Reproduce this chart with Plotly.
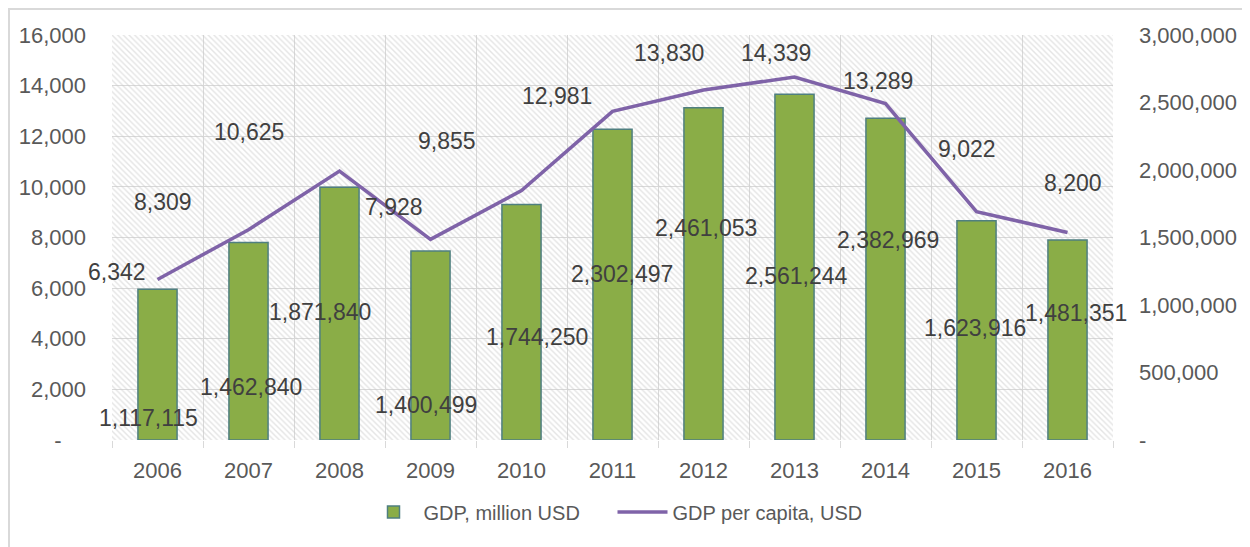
import plotly.graph_objects as go

years = ["2006", "2007", "2008", "2009", "2010", "2011", "2012", "2013", "2014", "2015", "2016"]
gdp_million = [1117115, 1462840, 1871840, 1400499, 1744250, 2302497, 2461053, 2561244, 2382969, 1623916, 1481351]
gdp_per_capita = [6342, 8309, 10625, 7928, 9855, 12981, 13830, 14339, 13289, 9022, 8200]

left_ticks = [0, 2000, 4000, 6000, 8000, 10000, 12000, 14000, 16000]
right_ticks = [0, 500000, 1000000, 1500000, 2000000, 2500000, 3000000]

# label offsets in pixels (dx, dy; dy positive = up), mimicking the original label placement
line_label_dx = [-41, -86, -91, -37, -75, -56, -35, -19, -8, -10, 5]
line_label_dy = [7, 28, 39, 32, 50, 15, 37, 24, 23, 63, 49]
bar_label_dx = [-9, 2, -20, -5, 15, 9, 2, 2, 2, -2, 8]
bar_label_dy = [-129, -144, -125, -154, -132, -145, -120, -182, -122, -107, -73]

FONT = "Liberation Sans"
TXT = "#595959"
LBL = "#404040"
GRID = "#d9d9d9"

# page has an 8px body margin; figure is sized/margined to compensate
W, H = 1242, 539
ML, MT, MR, MB = 104, 27, 137, 107
PW, PH = W - ML - MR, H - MT - MB

fig = go.Figure()

# hatched plot-area background
fig.add_trace(go.Bar(
    x=years, y=[right_ticks[-1]] * len(years), width=1,
    marker=dict(color="rgba(0,0,0,0)", line=dict(width=0),
                pattern=dict(shape="\\", fgcolor="#c9c9c9", bgcolor="rgba(0,0,0,0)",
                             size=4, solidity=0.35)),
    showlegend=False, hoverinfo="skip", yaxis="y", xaxis="x"))

fig.add_trace(go.Bar(
    x=years, y=gdp_million, width=0.43, name="GDP, million USD",
    marker=dict(color="#8aad47", line=dict(color="#4f7f80", width=1.5)),
    yaxis="y", xaxis="x"))

fig.add_trace(go.Scatter(
    x=years, y=gdp_per_capita, mode="lines", name="GDP per capita, USD",
    line=dict(color="#7f63a8", width=3.5), yaxis="y2", xaxis="x"))

for i in range(len(years)):
    fig.add_annotation(x=i, y=gdp_per_capita[i], xref="x", yref="y2",
                       text=f"{gdp_per_capita[i]:,}", showarrow=False,
                       xshift=line_label_dx[i], yshift=line_label_dy[i],
                       font=dict(family=FONT, size=23, color=LBL))
    fig.add_annotation(x=i, y=gdp_million[i], xref="x", yref="y",
                       text=f"{gdp_million[i]:,}", showarrow=False,
                       xshift=bar_label_dx[i], yshift=bar_label_dy[i],
                       font=dict(family=FONT, size=23, color=LBL))

# outer chart border
fig.add_shape(type="rect", xref="paper", yref="paper",
              x0=(1 - ML) / PW, x1=(1238 - ML) / PW,
              y0=-(MB + 20) / PH, y1=(PH + MT - 1) / PH,
              line=dict(color="#d9d9d9", width=2), layer="below")

fig.update_layout(
    width=W, height=H,
    margin=dict(l=ML, r=MR, t=MT, b=MB, autoexpand=False),
    paper_bgcolor="white", plot_bgcolor="white",
    barmode="overlay",
    font=dict(family=FONT, size=22, color=TXT),
    xaxis=dict(type="category", range=[-0.5, 10.5], tickson="boundaries",
               showgrid=True, gridcolor=GRID, gridwidth=1,
               ticks="outside", ticklen=7, tickcolor=GRID,
               showline=False, zeroline=False, ticklabelstandoff=15,
               tickfont=dict(family=FONT, size=22, color=TXT)),
    yaxis=dict(side="right", range=[0, right_ticks[-1]], tickmode="array",
               tickvals=right_ticks,
               ticktext=["-" if v == 0 else f"{v:,}" for v in right_ticks],
               showgrid=False, zeroline=False, showline=False,
               ticklabelstandoff=25,
               tickfont=dict(family=FONT, size=22, color=TXT)),
    yaxis2=dict(side="left", overlaying="y", range=[0, left_ticks[-1]],
                tickmode="array", tickvals=left_ticks,
                ticktext=["-\u00a0\u00a0\u00a0\u00a0" if v == 0 else f"{v:,}" for v in left_ticks],
                showgrid=True, gridcolor=GRID, gridwidth=1,
                zeroline=False, showline=False, ticklabelstandoff=25,
                tickfont=dict(family=FONT, size=22, color=TXT)),
    legend=dict(orientation="h", x=0.5, xanchor="center", y=-72 / PH, yanchor="middle",
                font=dict(family=FONT, size=20, color=TXT), traceorder="normal",
                itemwidth=50, entrywidth=184, bgcolor="rgba(0,0,0,0)"),
    hovermode=False,
)

fig.write_html("out.html")
